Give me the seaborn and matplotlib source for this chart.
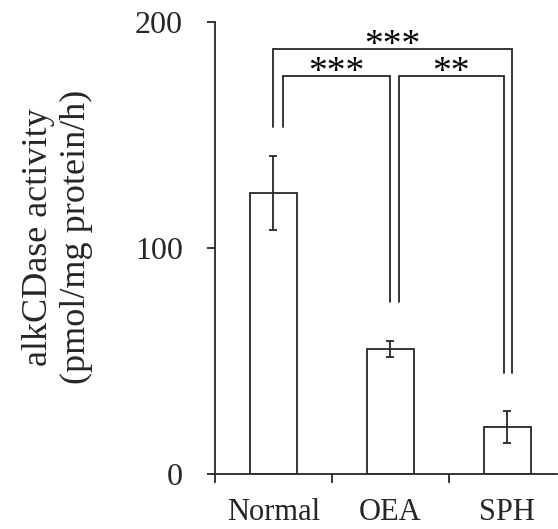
import numpy as np
import pandas as pd
import seaborn as sns
import matplotlib
matplotlib.use("Agg")
import matplotlib.pyplot as plt

# datos
groups = ["Normal", "OEA", "SPH"]
means = [124.3, 55.3, 20.8]
errors = [16.4, 3.7, 7.1]

# corchetes de significancia: (x izq, x der, altura, pata izq, pata der, texto)
br_left = [0.0, 0.08, 1.07]
br_right = [2.04, 1.0, 1.97]
br_top = [188, 176, 176]
br_left_end = [153.5, 153.5, 76]
br_right_end = [44.6, 76, 44.6]
br_text = ["***", "***", "**"]

df = pd.DataFrame({"grupo": groups, "actividad": means, "error": errors})

sns.set_style("ticks")
plt.rcParams["font.family"] = ["Liberation Serif", "DejaVu Serif"]
line_c = "#262626"
lw = 1.3

fig, ax = plt.subplots(figsize=(5.58, 5.29), dpi=100)
fig.subplots_adjust(left=0.385, right=0.998, bottom=0.104, top=0.958)

sns.barplot(data=df, x="grupo", y="actividad", width=0.4, color="white",
            edgecolor=line_c, linewidth=lw, saturation=1, errorbar=None, ax=ax)
ax.errorbar(np.arange(len(groups)), df["actividad"], yerr=df["error"], fmt="none",
            ecolor=line_c, elinewidth=lw, capsize=3, capthick=lw)

# corchetes
for xl, xr, yt, yl, yr, t in zip(br_left, br_right, br_top, br_left_end, br_right_end, br_text):
    ax.plot([xl, xl, xr, xr], [yl, yt, yt, yr], color=line_c, lw=lw, solid_joinstyle="miter")
    ax.text((xl + xr) / 2, yt - 6, t, ha="center", va="bottom", fontsize=27, color="black")

ax.set_yticks([0, 100, 200])
ax.tick_params(axis="y", length=6, width=lw, color=line_c, labelsize=23, pad=17)

ax.set_xticks([-0.5, 0.5, 1.5, 2.5])
ax.set_xticklabels([])
ax.set_xticks([0, 1, 2], minor=True)
ax.set_xticklabels(groups, minor=True)
ax.tick_params(axis="x", which="major", length=6.5, width=lw, color=line_c)
ax.tick_params(axis="x", which="minor", length=0, labelsize=22, pad=17.5)

ax.set_ylim(0, 200)
ax.set_xlim(-0.5, 2.423)

ax.set_xlabel("")
ax.set_ylabel("alkCDase activity\n(pmol/mg protein/h)", fontsize=26, linespacing=1.2)
ax.yaxis.set_label_coords(-0.357, 0.524)

for s in ["top", "right"]:
    ax.spines[s].set_visible(False)
for s in ["left", "bottom"]:
    ax.spines[s].set_color(line_c)
    ax.spines[s].set_linewidth(lw)

plt.savefig("out.png", dpi=100)
